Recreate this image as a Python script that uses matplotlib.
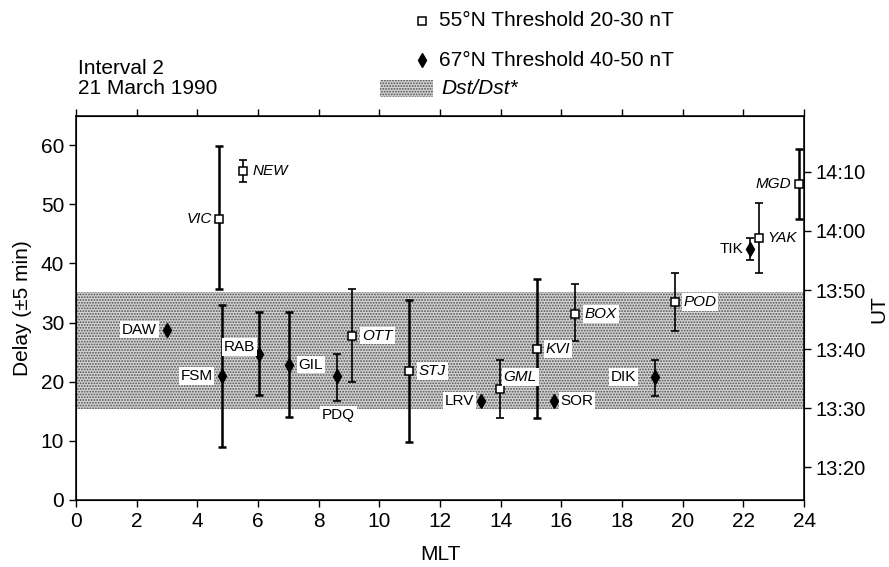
import matplotlib
matplotlib.use("Agg")
import matplotlib.pyplot as plt
import matplotlib.patches as mpatches
from matplotlib.lines import Line2D

plt.rcParams['font.family'] = ['Liberation Sans', 'DejaVu Sans']
plt.rcParams['hatch.linewidth'] = 0.9

# 55N stations (open squares), threshold 20-30 nT
sq_names = ["VIC", "NEW", "OTT", "STJ", "GML", "KVI", "BOX", "POD", "YAK", "MGD"]
sq_mlt = [4.72, 5.50, 9.11, 10.98, 13.96, 15.21, 16.45, 19.75, 22.50, 23.84]
sq_delay = [47.5, 55.7, 27.8, 21.8, 18.7, 25.5, 31.5, 33.5, 44.3, 53.4]
sq_hi = [59.8, 57.5, 35.6, 33.8, 23.6, 37.4, 36.5, 38.4, 50.2, 59.4]
sq_lo = [35.7, 53.7, 19.9, 9.8, 13.9, 13.9, 26.8, 28.6, 38.4, 47.5]

# 67N stations (filled diamonds), threshold 40-50 nT
dm_names = ["DAW", "FSM", "RAB", "GIL", "PDQ", "LRV", "SOR", "DIK", "TIK"]
dm_mlt = [2.99, 4.82, 6.03, 7.02, 8.60, 13.34, 15.74, 19.07, 22.22]
dm_delay = [28.8, 21.0, 24.7, 22.9, 20.9, 16.7, 16.7, 20.8, 42.4]
dm_hi = [None, 32.9, 31.7, 31.7, 24.7, None, None, 23.6, 44.3]
dm_lo = [None, 8.9, 17.8, 14.0, 16.8, None, None, 17.6, 40.5]

# Dst/Dst* delay band
dst_band = (15.3, 35.2)

ut_labels = ["13:20", "13:30", "13:40", "13:50", "14:00", "14:10"]
ut_minutes = [20, 30, 40, 50, 60, 70]
ut_offset = 14.5  # delay = minutes after 13:00 - offset

# label placement (offset points, ha)
label_pos = {
    "VIC": (-5, 0, "right"), "NEW": (7, 0, "left"), "OTT": (7, 0, "left"),
    "STJ": (7, 0, "left"), "GML": (3, 9, "left"), "KVI": (6, 0, "left"),
    "BOX": (7, 0, "left"), "POD": (6, 0, "left"), "YAK": (6, 0, "left"),
    "MGD": (-6, 0, "right"),
    "DAW": (-7, 0, "right"), "FSM": (-7, 0, "right"), "RAB": (-3, 5, "right"),
    "GIL": (7, 0, "left"), "PDQ": (1, -28, "center"), "LRV": (-5, 0, "right"),
    "SOR": (5, 0, "left"), "DIK": (-13, 0, "right"), "TIK": (-5, 0, "right"),
}
thick = {"VIC", "FSM", "RAB", "GIL", "STJ", "KVI", "MGD"}

stipple = dict(facecolor='#d4d4d4', edgecolor='#505050', hatch='......', linewidth=0)

fig = plt.figure(figsize=(8.89, 5.67), dpi=100)
ax = fig.add_axes([0.0855, 0.1182, 0.819, 0.678])

ax.axhspan(dst_band[0], dst_band[1], zorder=0, **stipple)

def draw_bar(x, y, hi, lo, name):
    if hi is None:
        return
    lw = 1.8 if name in thick else 1.2
    ax.errorbar([x], [y], yerr=[[y - lo], [hi - y]], fmt='none', ecolor='black',
                elinewidth=lw, capsize=3, capthick=lw, zorder=2)

for x, y, hi, lo, n in zip(sq_mlt, sq_delay, sq_hi, sq_lo, sq_names):
    draw_bar(x, y, hi, lo, n)
for x, y, hi, lo, n in zip(dm_mlt, dm_delay, dm_hi, dm_lo, dm_names):
    draw_bar(x, y, hi, lo, n)

ax.plot(sq_mlt, sq_delay, linestyle='none', marker='s', markersize=6,
        markerfacecolor='white', markeredgecolor='black', markeredgewidth=1.1, zorder=3)
ax.plot(dm_mlt, dm_delay, linestyle='none', marker='d', markersize=7.5,
        markerfacecolor='black', markeredgecolor='black', zorder=3)

box = dict(boxstyle='square,pad=0.12', facecolor='white', edgecolor='none')
for x, y, n in zip(sq_mlt, sq_delay, sq_names):
    dx, dy, ha = label_pos[n]
    ax.annotate(n, (x, y), xytext=(dx, dy), textcoords='offset points', ha=ha,
                va='center', fontsize=11, style='italic', bbox=box, zorder=4)
for x, y, n in zip(dm_mlt, dm_delay, dm_names):
    dx, dy, ha = label_pos[n]
    ax.annotate(n, (x, y), xytext=(dx, dy), textcoords='offset points', ha=ha,
                va='center', fontsize=11, bbox=box, zorder=4)

ax.set_xlim(0, 24)
ax.set_ylim(0, 65)
ax.set_xticks(range(0, 25, 2))
ax.set_yticks(range(0, 61, 10))
ax.tick_params(axis='both', which='both', direction='out', length=5, width=1,
               labelsize=15, top=True, labeltop=False)
ax.set_xlabel("MLT", fontsize=15, labelpad=10)
ax.set_ylabel("Delay (\u00b15 min)", fontsize=15, labelpad=6)
for s in ax.spines.values():
    s.set_linewidth(1.1)

ax2 = ax.twinx()
ax2.set_ylim(ax.get_ylim())
ax2.set_yticks([m - ut_offset for m in ut_minutes])
ax2.set_yticklabels(ut_labels)
ax2.tick_params(axis='y', direction='out', length=5, width=1, labelsize=14.5, pad=3)
fig.text(879 / 889, 1 - 309 / 567, "UT", fontsize=15, rotation=90,
         ha='center', va='center')

# header text
fig.text(78 / 889, 1 - 68 / 567, "Interval 2", fontsize=15, va='center')
fig.text(78 / 889, 1 - 89 / 567, "21 March 1990", fontsize=15, va='center')

# legend
fig.add_artist(Line2D([422 / 889], [1 - 21 / 567], marker='s', markersize=6,
                      markerfacecolor='white', markeredgecolor='black',
                      markeredgewidth=1.1, linestyle='none'))
fig.text(439 / 889, 1 - 21 / 567, "55\u00b0N Threshold 20-30 nT", fontsize=15, va='center')
fig.add_artist(Line2D([422 / 889], [1 - 60 / 567], marker='d', markersize=7.5,
                      markerfacecolor='black', markeredgecolor='black', linestyle='none'))
fig.text(439 / 889, 1 - 60 / 567, "67\u00b0N Threshold 40-50 nT", fontsize=15, va='center')
fig.add_artist(mpatches.Rectangle((380 / 889, 1 - 97 / 567), 53 / 889, 17 / 567,
                                  transform=fig.transFigure, **stipple))
fig.text(441 / 889, 1 - 89 / 567, "Dst/Dst*", fontsize=15, style='italic', va='center')

fig.savefig("out.png", dpi=100)
